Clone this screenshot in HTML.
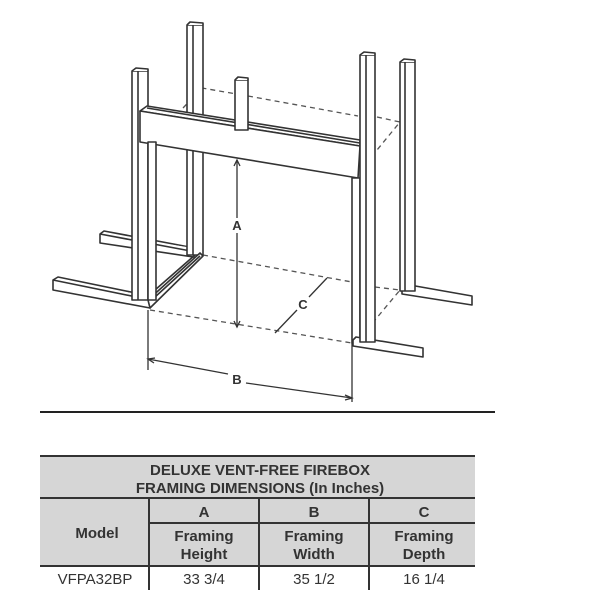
<!DOCTYPE html>
<html><head><style>
html,body{margin:0;padding:0;background:#fff;width:600px;height:600px;overflow:hidden}
svg{position:absolute;left:0;top:0}
.t{font-family:"Liberation Sans",sans-serif;font-weight:bold;fill:#333}
</style></head><body>
<svg width="600" height="600" viewBox="0 0 600 600">
<g fill="#fff" stroke="#333" stroke-width="1.6" stroke-linejoin="round">
<g fill="none" stroke="#555" stroke-dasharray="5,4" stroke-width="1.3">
<path d="M183,108 L202,88 L248,96"/>
<path d="M248,96 L358,116"/>
<path d="M377,117 L400,122 L377,150"/>
<path d="M203,255 L352,282"/>
<path d="M150,310 L352,343"/>
<path d="M375,287 L400,290 L375,320"/>
</g>
<path d="M100,234 L104,231 L200,249 L200,258 L100,243 Z"/>
<path d="M100,234 L196,252 L200,249"/>
<rect x="187" y="25" width="16" height="230"/>
<path d="M187,25 L190,22 L203,23 L203,25"/>
<line x1="193" y1="25" x2="193" y2="255"/>
<path d="M53,280 L58,277 L150,296 L150,308 L53,290 Z"/>
<path d="M53,280 L146,299 L150,296"/>
<path d="M148,300 L200,253 L203,256 L150,308 Z"/>
<path d="M155,290 L195,255 M155,297 L200,256" fill="none"/>
<rect x="132" y="71" width="16" height="229"/>
<path d="M132,71 L136,68 L148,69 L148,71"/>
<line x1="138" y1="71" x2="138" y2="300"/>
<path d="M402,287 L404,284 L472,296 L472,305 L402,294 Z"/>
<rect x="400" y="62" width="15" height="229"/>
<path d="M400,62 L404,59 L415,60 L415,62"/>
<line x1="405" y1="62" x2="405" y2="291"/>
<path d="M140,111 L147,106 L360,140 L360,146 Z"/>
<path d="M140,111 L360,146 L358,178 L140,142 Z"/>
<path d="M147,108 L360,143" fill="none"/>
<rect x="352" y="178" width="8" height="165"/>
<path d="M353,340 L356,337 L423,348 L423,357 L353,346 Z"/>
<rect x="360" y="55" width="15" height="287"/>
<path d="M360,55 L364,52 L375,53 L375,55"/>
<line x1="366" y1="55" x2="366" y2="342"/>
<rect x="235" y="80" width="13" height="50"/>
<path d="M235,80 L238,77 L248,78 L248,80"/>
<rect x="148" y="142" width="8" height="158"/>
</g>
<g stroke="#333" stroke-width="1.3" fill="none">
<line x1="237" y1="160" x2="237" y2="218"/>
<line x1="237" y1="233" x2="237" y2="327"/>
<path d="M234,166 L237,160 L240,166 M234,321 L237,327 L240,321"/>
<line x1="148" y1="310" x2="148" y2="370"/>
<line x1="352" y1="343" x2="352" y2="402"/>
<line x1="148" y1="359" x2="228" y2="374"/>
<line x1="246" y1="383" x2="352" y2="398"/>
<path d="M155,358 L148,359 L154,363 M345,395 L352,398 L345,400"/>
<line x1="275" y1="333" x2="297" y2="310"/>
<line x1="309" y1="297" x2="327" y2="278"/>
</g>
<text class="t" x="237" y="230" font-size="13" text-anchor="middle">A</text>
<text class="t" x="237" y="384" font-size="13" text-anchor="middle">B</text>
<text class="t" x="303" y="309" font-size="13" text-anchor="middle">C</text>
<line x1="40" y1="412" x2="495" y2="412" stroke="#222" stroke-width="2"/>
<rect x="40" y="456" width="435" height="110" fill="#d6d6d6"/>
<g stroke="#333" stroke-width="2">
<line x1="40" y1="456" x2="475" y2="456"/>
<line x1="40" y1="498" x2="475" y2="498"/>
<line x1="149" y1="523" x2="475" y2="523"/>
<line x1="40" y1="566" x2="475" y2="566"/>
<line x1="149" y1="498" x2="149" y2="590"/>
<line x1="259" y1="498" x2="259" y2="590"/>
<line x1="369" y1="498" x2="369" y2="590"/>
</g>
<g class="t" font-size="15" text-anchor="middle">
<text x="260" y="475">DELUXE VENT-FREE FIREBOX</text>
<text x="260" y="493">FRAMING DIMENSIONS (In Inches)</text>
<text x="204" y="517">A</text><text x="314" y="517">B</text><text x="424" y="517">C</text>
<text x="97" y="538">Model</text>
<text x="204" y="541">Framing</text><text x="204" y="559">Height</text>
<text x="314" y="541">Framing</text><text x="314" y="559">Width</text>
<text x="424" y="541">Framing</text><text x="424" y="559">Depth</text>
</g>
<g font-family="Liberation Sans,sans-serif" font-size="15" fill="#333" text-anchor="middle">
<text x="95" y="584">VFPA32BP</text>
<text x="204" y="584">33 3/4</text><text x="314" y="584">35 1/2</text><text x="424" y="584">16 1/4</text>
</g>
</svg>
</body></html>
